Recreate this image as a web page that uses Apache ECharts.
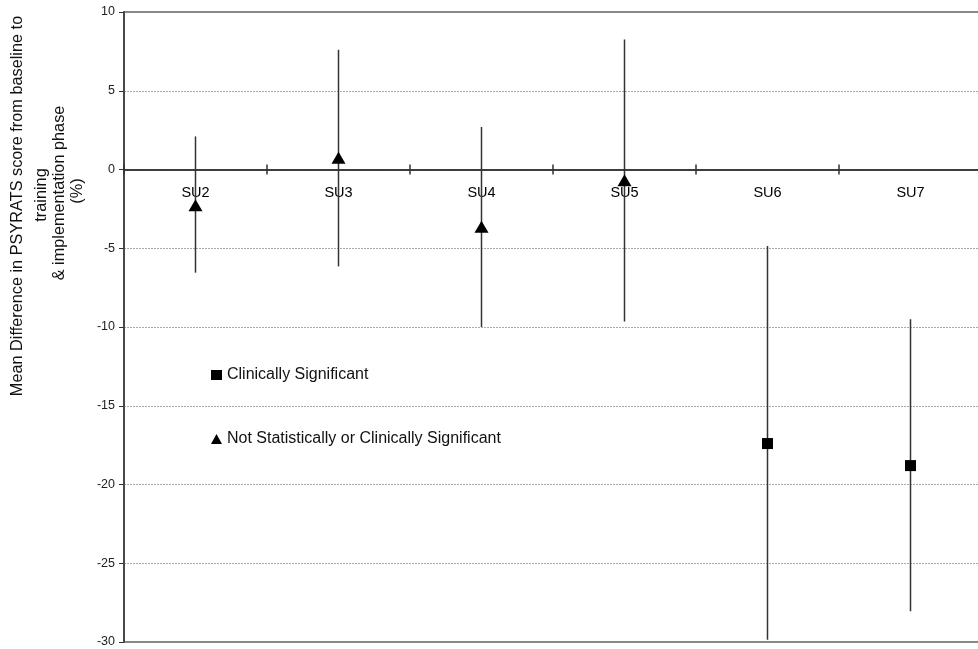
<!DOCTYPE html>
<html>
<head>
<meta charset="utf-8">
<script src="https://cdn.jsdelivr.net/npm/echarts@6/dist/echarts.min.js"></script>
<style>
html,body{margin:0;padding:0;background:#fff;}
#chart{width:978px;height:649px;}
</style>
</head>
<body>
<div id="chart"></div>
<script>
// ---- Data ----
var categories = ['SU2', 'SU3', 'SU4', 'SU5', 'SU6', 'SU7'];
var meanDiff   = [-2.27, 0.75, -3.63, -0.68, -17.4, -18.8];
var upperCI    = [2.1, 7.6, 2.7, 8.25, -4.85, -9.5];
var lowerCI    = [-6.55, -6.15, -10.0, -9.65, -29.85, -28.05];
var clinicallySignificant = [false, false, false, false, true, true];
var yTicks = [-30, -25, -20, -15, -10, -5, 0, 5, 10];
var seriesNames = ['Clinically Significant', 'Not Statistically or Clinically Significant'];
var yTitleLines = ['Mean Difference in PSYRATS score from baseline to', 'training', '& implementation phase', '(%)'];

// ---- Build ----
var errData = categories.map(function (c, i) { return [i, lowerCI[i], upperCI[i]]; });
var sigData = categories.map(function (c, i) { return clinicallySignificant[i] ? [i, meanDiff[i]] : [i, '-']; });
var nsData  = categories.map(function (c, i) { return !clinicallySignificant[i] ? [i, meanDiff[i]] : [i, '-']; });
var catLabelData = categories.map(function (c, i) { return { value: [i, 0], name: c }; });

var font = 'Liberation Sans, Arial, sans-serif';
var chart = echarts.init(document.getElementById('chart'));

var titleX = [18, 42, 60, 78];
var titleY = [206, 195, 193, 191];
var graphics = yTitleLines.map(function (t, i) {
  return {
    type: 'text', x: titleX[i], y: titleY[i], rotation: Math.PI / 2, z: 10,
    style: { text: t, fontSize: 16.3, fontFamily: font, fill: '#111', align: 'center', verticalAlign: 'middle' }
  };
});

chart.setOption({
  animation: false,
  backgroundColor: '#fff',
  grid: { left: 124, top: 12, width: 858, height: 630, outerBoundsMode: 'none', containLabel: false,
          show: true, borderColor: '#888', borderWidth: 2, backgroundColor: 'transparent' },
  legend: {
    orient: 'vertical', left: 206, top: 362, itemGap: 48, itemWidth: 11, itemHeight: 10,
    textStyle: { fontSize: 16, fontFamily: font, color: '#111' },
    data: [{ name: seriesNames[0], icon: 'rect' }, { name: seriesNames[1], icon: 'triangle' }]
  },
  graphic: graphics,
  xAxis: [
    {
      type: 'category', data: categories, position: 'bottom', boundaryGap: true,
      axisLine: { onZero: true, onZeroAxisIndex: 0, lineStyle: { color: '#333', width: 1.5 } },
      axisTick: { show: true, inside: false, length: 5, lineStyle: { color: '#333', width: 1.5 } },
      axisLabel: { show: false },
      splitLine: { show: false }
    },
    {
      type: 'category', data: categories, position: 'top', boundaryGap: true,
      axisLine: { onZero: true, onZeroAxisIndex: 0, lineStyle: { color: '#333', width: 1.5 } },
      axisTick: { show: true, inside: false, length: 5, lineStyle: { color: '#333', width: 1.5 } },
      axisLabel: { show: false },
      splitLine: { show: false }
    }
  ],
  yAxis: {
    type: 'value', min: yTicks[0], max: yTicks[yTicks.length - 1], interval: 5,
    axisLine: { show: true, onZero: false, lineStyle: { color: '#333', width: 1.5 } },
    axisTick: { show: true, inside: false, length: 5, lineStyle: { color: '#333' } },
    axisLabel: { margin: 9, fontSize: 12.5, fontFamily: font, color: '#222' },
    splitLine: { show: true, showMinLine: false, showMaxLine: false, lineStyle: { color: '#aaa', type: [2, 1], width: 1 } }
  },
  series: [
    {
      type: 'scatter', name: 'categoryLabels', xAxisIndex: 0, data: catLabelData, symbolSize: 0, z: 2, silent: true,
      itemStyle: { opacity: 1, color: '#000' },
      label: { show: true, position: 'bottom', distance: 16, formatter: '{b}', fontSize: 14.5, fontFamily: font, color: '#000', opacity: 1 }
    },
    {
      type: 'custom', name: 'CI', xAxisIndex: 0, data: errData, z: 3,
      renderItem: function (params, api) {
        var p1 = api.coord([api.value(0), api.value(1)]);
        var p2 = api.coord([api.value(0), api.value(2)]);
        return { type: 'line', shape: { x1: p1[0], y1: p1[1], x2: p2[0], y2: p2[1] }, style: { stroke: '#333', lineWidth: 1.5 } };
      }
    },
    {
      type: 'scatter', name: seriesNames[0], xAxisIndex: 0, data: sigData, symbol: 'rect', symbolSize: 11, z: 5,
      itemStyle: { color: '#000', opacity: 1 }
    },
    {
      type: 'scatter', name: seriesNames[1], xAxisIndex: 0, data: nsData, symbol: 'triangle', symbolSize: [14, 12], z: 5,
      itemStyle: { color: '#000', opacity: 1 }
    }
  ]
});
</script>
</body>
</html>
